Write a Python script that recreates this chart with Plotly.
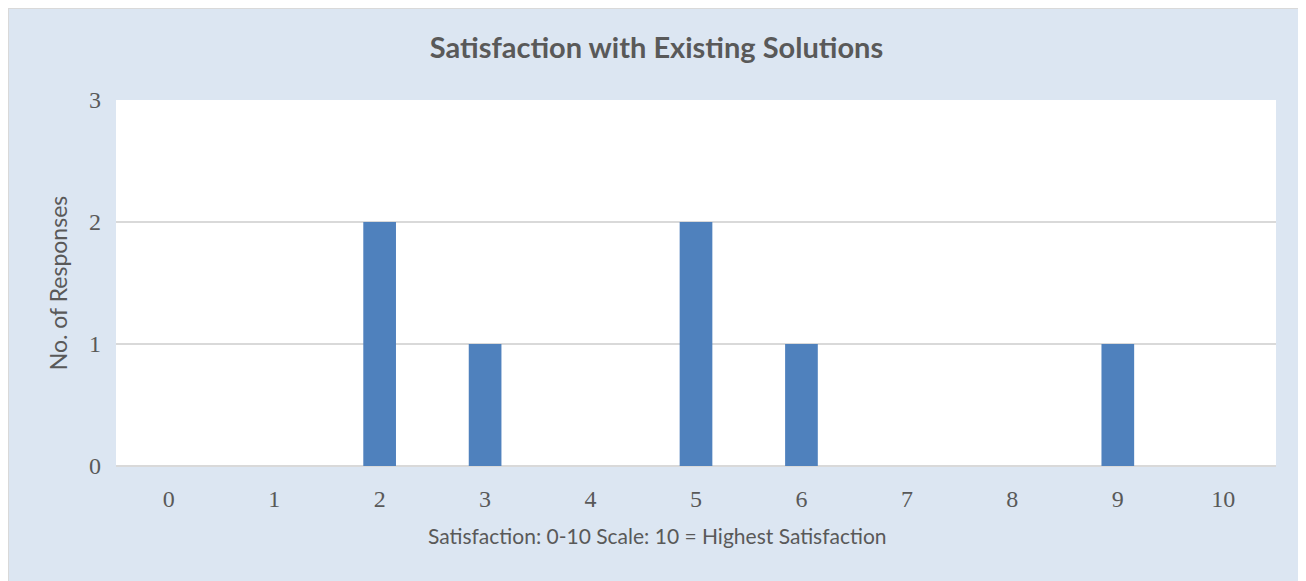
import plotly.graph_objects as go

# Survey data: satisfaction scores 0-10 and number of responses
scores = ["0", "1", "2", "3", "4", "5", "6", "7", "8", "9", "10"]
responses = [0, 0, 2, 1, 0, 2, 1, 0, 0, 1, 0]
y_ticks = [0, 1, 2, 3]

# page adds an 8px body margin, so the figure is a bit smaller than the window
W, H = 1297, 574
ML, MR, MT, MB = 108, 29, 92, 116
PW, PH = W - ML - MR, H - MT - MB

BLUE_BG = "#dce6f2"
TEXT = "#595959"
GRID = "#d9d9d9"


def px_x(p):
    return (p - ML) / PW


def px_y(p):
    return (H - MB - p) / PH


fig = go.Figure()
fig.add_trace(go.Bar(
    x=scores,
    y=responses,
    marker=dict(color="#4f81bd", line=dict(width=0)),
    hoverinfo="x+y",
))

# thin grey frame round the chart
frame = dict(type="rect", xref="paper", yref="paper",
             x0=px_x(0), x1=px_x(W - 0.5), y0=px_y(H + 2), y1=px_y(0),
             fillcolor="rgba(0,0,0,0)", line=dict(color=GRID, width=2))

# x axis title sits a little left of centre in the original, so use an annotation
x_title = dict(
    text="Satisfaction: 0-10 Scale: 10 = Highest Satisfaction",
    xref="paper", yref="paper",
    x=px_x(649), y=px_y(527),
    xanchor="center", yanchor="middle",
    showarrow=False,
    font=dict(family="Lato, sans-serif", size=21, color=TEXT),
)

fig.update_layout(
    width=W,
    height=H,
    margin=dict(l=ML, r=MR, t=MT, b=MB),
    paper_bgcolor=BLUE_BG,
    plot_bgcolor="white",
    showlegend=False,
    bargap=0.69,
    shapes=[frame],
    annotations=[x_title],
    title=dict(
        text="<b>Satisfaction with Existing Solutions</b>",
        x=0.5, xanchor="center",
        y=1 - 40 / H, yanchor="middle",
        font=dict(family="Lato, Open Sans, sans-serif", size=29, color=TEXT),
    ),
    xaxis=dict(
        type="category",
        tickfont=dict(family="Liberation Serif, serif", size=24, color=TEXT),
        showgrid=False,
        ticks="",
        showline=False,
        ticklabelstandoff=16,
    ),
    yaxis=dict(
        range=[0, 3],
        tickvals=y_ticks,
        title=dict(text="No. of Responses",
                   font=dict(family="Lato, sans-serif", size=23, color=TEXT),
                   standoff=14),
        tickfont=dict(family="Liberation Serif, serif", size=24, color=TEXT),
        showgrid=True,
        gridcolor=GRID,
        gridwidth=1.5,
        zeroline=True,
        zerolinecolor=GRID,
        zerolinewidth=1.5,
        ticks="",
        ticklabelstandoff=14,
    ),
)

fig.write_html("out.html")
